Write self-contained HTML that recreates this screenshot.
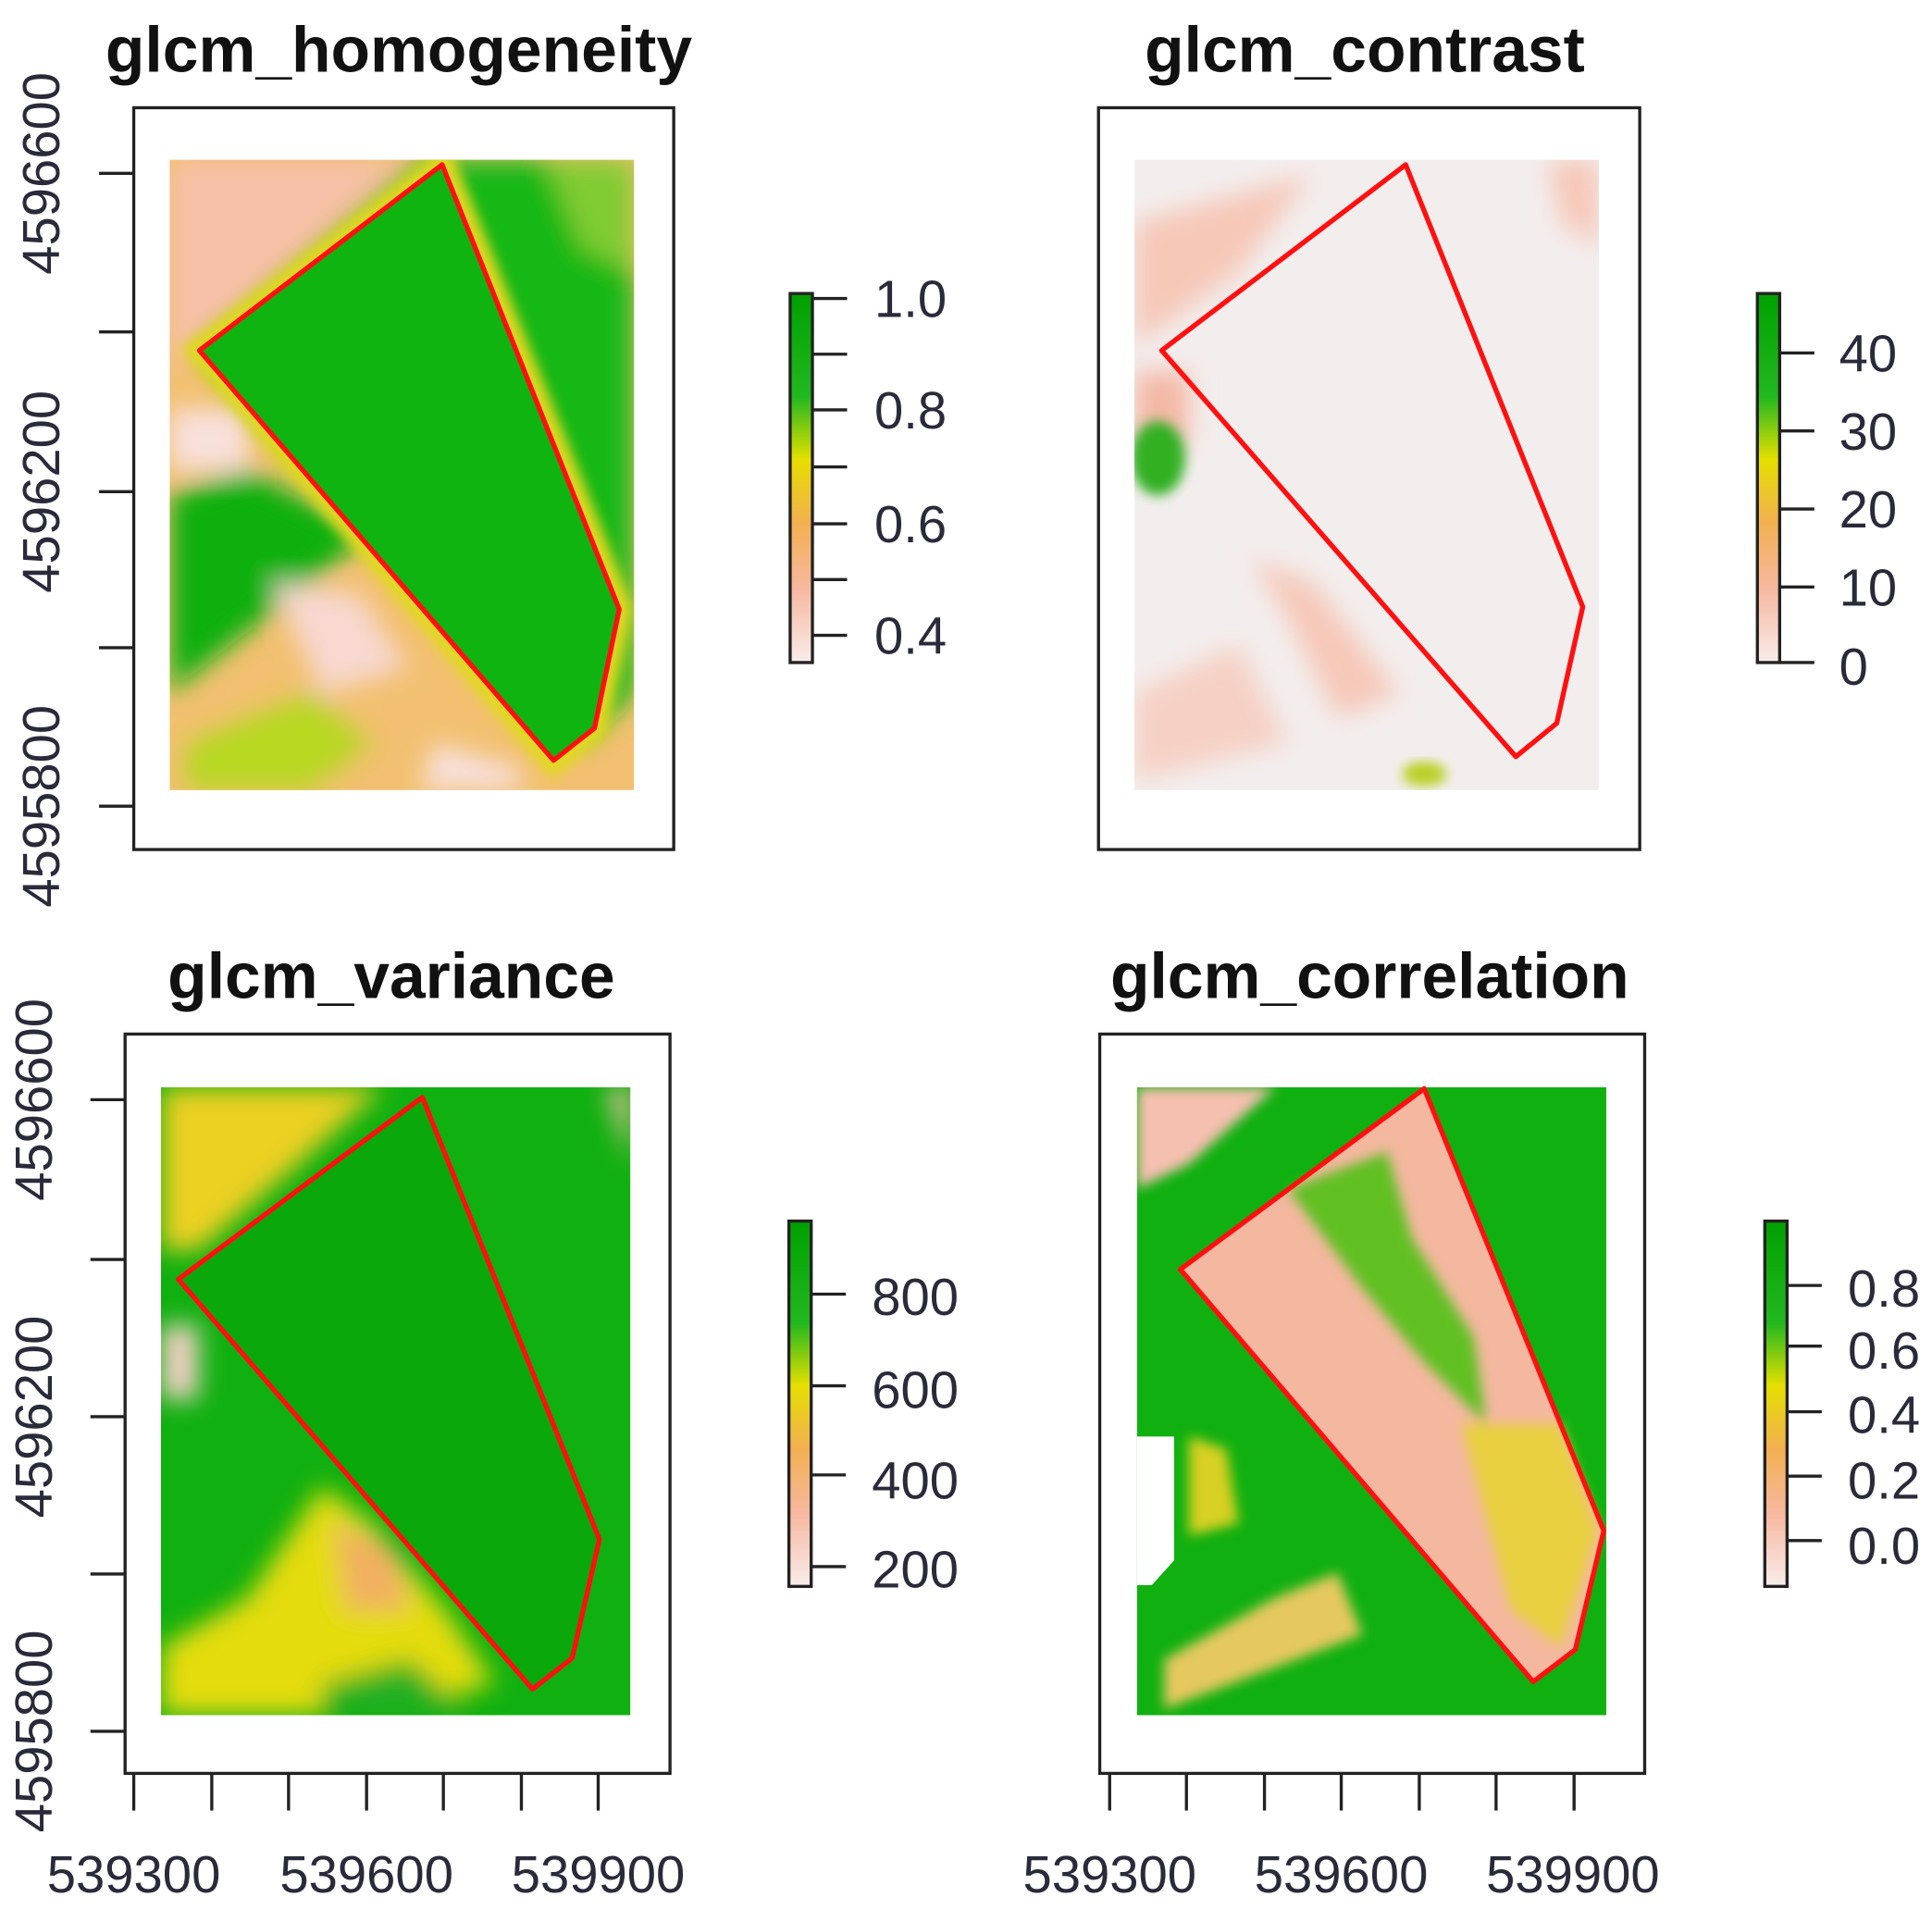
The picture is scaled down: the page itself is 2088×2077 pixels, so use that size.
<!DOCTYPE html>
<html><head><meta charset="utf-8"><style>
html,body{margin:0;padding:0;background:#fff;}
svg{display:block;}
text{font-family:"Liberation Sans",Arial,sans-serif;fill:#222;}
.t{font-weight:bold;font-size:52px;fill:#111;}
.l{font-size:42px;fill:#2a2a3a;}
</style></head><body>
<svg width="2088" height="2077" viewBox="0 0 1560 1552" preserveAspectRatio="none" xmlns="http://www.w3.org/2000/svg">
<defs>
<linearGradient id="leg" x1="0" y1="1" x2="0" y2="0">
<stop offset="0" stop-color="#f8ecea"/><stop offset="0.2" stop-color="#f7b8a0"/><stop offset="0.38" stop-color="#f2b050"/><stop offset="0.55" stop-color="#e6df00"/><stop offset="0.72" stop-color="#22b820"/><stop offset="1" stop-color="#00a000"/>
</linearGradient>
<filter id="b" x="-20%" y="-20%" width="140%" height="140%"><feGaussianBlur stdDeviation="10"/></filter>
<filter id="b2" x="-20%" y="-20%" width="140%" height="140%"><feGaussianBlur stdDeviation="5"/></filter>
<clipPath id="c1"><rect x="137" y="129" width="375" height="509"/></clipPath>
<clipPath id="c2"><rect x="916" y="129" width="375" height="509"/></clipPath>
<clipPath id="c3"><rect x="130" y="878" width="379" height="507"/></clipPath>
<clipPath id="c4"><rect x="918" y="878" width="379" height="507"/></clipPath>
</defs>

<!-- Titles -->
<text class="t" x="322" y="58" text-anchor="middle">glcm_homogeneity</text>
<text class="t" x="1102" y="58" text-anchor="middle">glcm_contrast</text>
<text class="t" x="316" y="806" text-anchor="middle">glcm_variance</text>
<text class="t" x="1106" y="806" text-anchor="middle">glcm_correlation</text>

<!-- Panel 1 raster -->
<g clip-path="url(#c1)">
<rect x="137" y="129" width="375" height="509" fill="#f2c070"/>
<g filter="url(#b)">
<path d="M137,129 L330,129 L180,260 L137,300Z" fill="#f6c0a8"/>
<path d="M137,330 L200,330 L200,380 L137,380Z" fill="#f8e0dc"/>
<path d="M137,400 L200,380 L300,430 L250,470 L137,560Z" fill="#10b010"/>
<path d="M340,129 L512,129 L512,560 L470,600 L400,520 L290,420 L200,330 L160,283Z" fill="#18b818"/>
<path d="M440,129 L512,129 L512,220 L470,200Z" fill="#80cc30"/>
<path d="M150,600 L250,560 L300,600 L250,638 L150,638Z" fill="#b8d820"/>
<path d="M220,470 L290,480 L330,540 L260,560Z" fill="#f8d8d0"/>
<path d="M350,600 L420,620 L420,638 L340,638Z" fill="#f8e0dc"/>
</g>
<polygon points="357,133 161,283 447,614 480,588 500,492" fill="none" stroke="#e0d820" stroke-width="22" filter="url(#b2)"/>
<polygon points="357,133 161,283 447,614 480,588 500,492" fill="#10b410"/>
</g>

<!-- Panel 2 raster -->
<g clip-path="url(#c2)">
<rect x="916" y="129" width="375" height="509" fill="#f3eeee"/>
<g filter="url(#b)">
<path d="M916,180 L1060,140 L1000,220 L916,280Z" fill="#f6c8b8"/>
<path d="M916,300 L960,300 L960,360 L916,360Z" fill="#f4b8a4"/>
<path d="M1010,450 L1060,470 L1130,560 L1080,580 L1040,500Z" fill="#f6c8b8"/>
<path d="M916,560 L1000,520 L1040,600 L916,630Z" fill="#f6d0c4"/>
<path d="M1250,129 L1291,129 L1291,200 L1260,180Z" fill="#f6c8b8"/>
</g>
<ellipse cx="935" cy="370" rx="22" ry="30" fill="#30b020" filter="url(#b2)"/>
<ellipse cx="1150" cy="625" rx="18" ry="10" fill="#b8d020" filter="url(#b2)"/>
</g>

<!-- Panel 3 raster -->
<g clip-path="url(#c3)">
<rect x="130" y="878" width="379" height="507" fill="#10b010"/>
<g filter="url(#b)">
<path d="M130,878 L310,878 L230,950 L160,1010 L130,1010Z" fill="#ecd020"/>
<path d="M130,1070 L160,1070 L160,1130 L130,1130Z" fill="#f6d0c8"/>
<path d="M130,1330 L200,1290 L260,1200 L300,1230 L360,1300 L400,1360 L300,1385 L130,1385Z" fill="#e4dc10"/>
<path d="M270,1230 L320,1250 L330,1300 L280,1300Z" fill="#f2b060"/>
<path d="M490,878 L509,878 L509,940Z" fill="#f6c0a8"/>
<path d="M260,1360 L330,1340 L380,1385 L260,1385Z" fill="#20b020"/>
</g>
<polygon points="341,886 144,1033 430,1364 462,1339 484,1243" fill="#0aa80a"/>
</g>

<!-- Panel 4 raster -->
<g clip-path="url(#c4)">
<rect x="918" y="878" width="379" height="507" fill="#10b010"/>
<g filter="url(#b2)">
<path d="M918,878 L1030,878 L960,940 L918,960Z" fill="#f6c0b0"/>
<path d="M1030,1290 L1080,1270 L1100,1320 L1020,1350 L940,1380 L940,1340Z" fill="#e6c860"/>
<path d="M960,1160 L990,1170 L1000,1230 L960,1240Z" fill="#d8d020"/>
</g>
<polygon points="1150,879 953,1025 1238,1358 1272,1332 1295,1236" fill="#f4b8a0"/>
<g filter="url(#b2)">
<path d="M1040,960 L1120,930 L1140,1000 L1190,1080 L1200,1150 L1150,1100 L1100,1040Z" fill="#60c020"/>
<path d="M1180,1150 L1260,1150 L1290,1236 L1260,1330 L1220,1300Z" fill="#e8d040"/>
</g>
<path d="M918,1160 L948,1160 L948,1260 L930,1280 L918,1280Z" fill="#ffffff"/>
</g>

<!-- Red polygons -->
<g fill="none" stroke="#ff1010" stroke-width="4" stroke-linejoin="round">
<polygon points="357,133 161,283 447,614 480,588 500,492"/>
<polygon points="1135,133 938,283 1224,611 1257,584 1278,490"/>
<polygon points="341,886 144,1033 430,1364 462,1339 484,1243"/>
<polygon points="1150,879 953,1025 1238,1358 1272,1332 1295,1236"/>
</g>

<!-- Boxes -->
<g fill="none" stroke="#222" stroke-width="2.5">
<rect x="108" y="87" width="436" height="599"/>
<rect x="887" y="87" width="437" height="599"/>
<rect x="101" y="835" width="440" height="597"/>
<rect x="888" y="835" width="440" height="597"/>
</g>

<!-- Y ticks -->
<g stroke="#222" stroke-width="2.5">
<line x1="80" y1="140" x2="108" y2="140"/><line x1="80" y1="268" x2="108" y2="268"/><line x1="80" y1="397" x2="108" y2="397"/><line x1="80" y1="523" x2="108" y2="523"/><line x1="80" y1="651" x2="108" y2="651"/>
<line x1="73" y1="888" x2="101" y2="888"/><line x1="73" y1="1017" x2="101" y2="1017"/><line x1="73" y1="1144" x2="101" y2="1144"/><line x1="73" y1="1271" x2="101" y2="1271"/><line x1="73" y1="1398" x2="101" y2="1398"/>
</g>
<g class="l">
<text class="l" transform="translate(48,140) rotate(-90)" text-anchor="middle">4596600</text>
<text class="l" transform="translate(48,397) rotate(-90)" text-anchor="middle">4596200</text>
<text class="l" transform="translate(48,651) rotate(-90)" text-anchor="middle">4595800</text>
<text class="l" transform="translate(42,888) rotate(-90)" text-anchor="middle">4596600</text>
<text class="l" transform="translate(42,1144) rotate(-90)" text-anchor="middle">4596200</text>
<text class="l" transform="translate(42,1398) rotate(-90)" text-anchor="middle">4595800</text>
</g>

<!-- X ticks -->
<g stroke="#222" stroke-width="2.5">
<line x1="108" y1="1432" x2="108" y2="1462"/><line x1="171" y1="1432" x2="171" y2="1462"/><line x1="233" y1="1432" x2="233" y2="1462"/><line x1="296" y1="1432" x2="296" y2="1462"/><line x1="358" y1="1432" x2="358" y2="1462"/><line x1="421" y1="1432" x2="421" y2="1462"/><line x1="483" y1="1432" x2="483" y2="1462"/>
<line x1="896" y1="1432" x2="896" y2="1462"/><line x1="958" y1="1432" x2="958" y2="1462"/><line x1="1021" y1="1432" x2="1021" y2="1462"/><line x1="1083" y1="1432" x2="1083" y2="1462"/><line x1="1146" y1="1432" x2="1146" y2="1462"/><line x1="1208" y1="1432" x2="1208" y2="1462"/><line x1="1271" y1="1432" x2="1271" y2="1462"/>
</g>
<text class="l" x="108" y="1528" text-anchor="middle">539300</text>
<text class="l" x="296" y="1528" text-anchor="middle">539600</text>
<text class="l" x="483" y="1528" text-anchor="middle">539900</text>
<text class="l" x="896" y="1528" text-anchor="middle">539300</text>
<text class="l" x="1083" y="1528" text-anchor="middle">539600</text>
<text class="l" x="1270" y="1528" text-anchor="middle">539900</text>

<!-- Legends -->
<g stroke="#222" stroke-width="2.5">
<rect x="638" y="237" width="18" height="298" fill="url(#leg)"/>
<line x1="656" y1="241" x2="684" y2="241"/><line x1="656" y1="286" x2="684" y2="286"/><line x1="656" y1="331" x2="684" y2="331"/><line x1="656" y1="377" x2="684" y2="377"/><line x1="656" y1="423" x2="684" y2="423"/><line x1="656" y1="468" x2="684" y2="468"/><line x1="656" y1="513" x2="684" y2="513"/>
<rect x="1419" y="237" width="18" height="298" fill="url(#leg)"/>
<line x1="1437" y1="285" x2="1465" y2="285"/><line x1="1437" y1="348" x2="1465" y2="348"/><line x1="1437" y1="411" x2="1465" y2="411"/><line x1="1437" y1="474" x2="1465" y2="474"/><line x1="1437" y1="535" x2="1465" y2="535"/>
<rect x="637" y="986" width="18" height="295" fill="url(#leg)"/>
<line x1="655" y1="1045" x2="683" y2="1045"/><line x1="655" y1="1119" x2="683" y2="1119"/><line x1="655" y1="1191" x2="683" y2="1191"/><line x1="655" y1="1265" x2="683" y2="1265"/>
<rect x="1425" y="986" width="18" height="295" fill="url(#leg)"/>
<line x1="1443" y1="1038" x2="1471" y2="1038"/><line x1="1443" y1="1087" x2="1471" y2="1087"/><line x1="1443" y1="1140" x2="1471" y2="1140"/><line x1="1443" y1="1192" x2="1471" y2="1192"/><line x1="1443" y1="1244" x2="1471" y2="1244"/>
</g>
<text class="l" x="706" y="256">1.0</text><text class="l" x="706" y="346">0.8</text><text class="l" x="706" y="438">0.6</text><text class="l" x="706" y="528">0.4</text>
<text class="l" x="1485" y="300">40</text><text class="l" x="1485" y="363">30</text><text class="l" x="1485" y="426">20</text><text class="l" x="1485" y="489">10</text><text class="l" x="1485" y="553">0</text>
<text class="l" x="704" y="1062">800</text><text class="l" x="704" y="1137">600</text><text class="l" x="704" y="1210">400</text><text class="l" x="704" y="1282">200</text>
<text class="l" x="1492" y="1055">0.8</text><text class="l" x="1492" y="1105">0.6</text><text class="l" x="1492" y="1157">0.4</text><text class="l" x="1492" y="1210">0.2</text><text class="l" x="1492" y="1263">0.0</text>
</svg>
</body></html>
